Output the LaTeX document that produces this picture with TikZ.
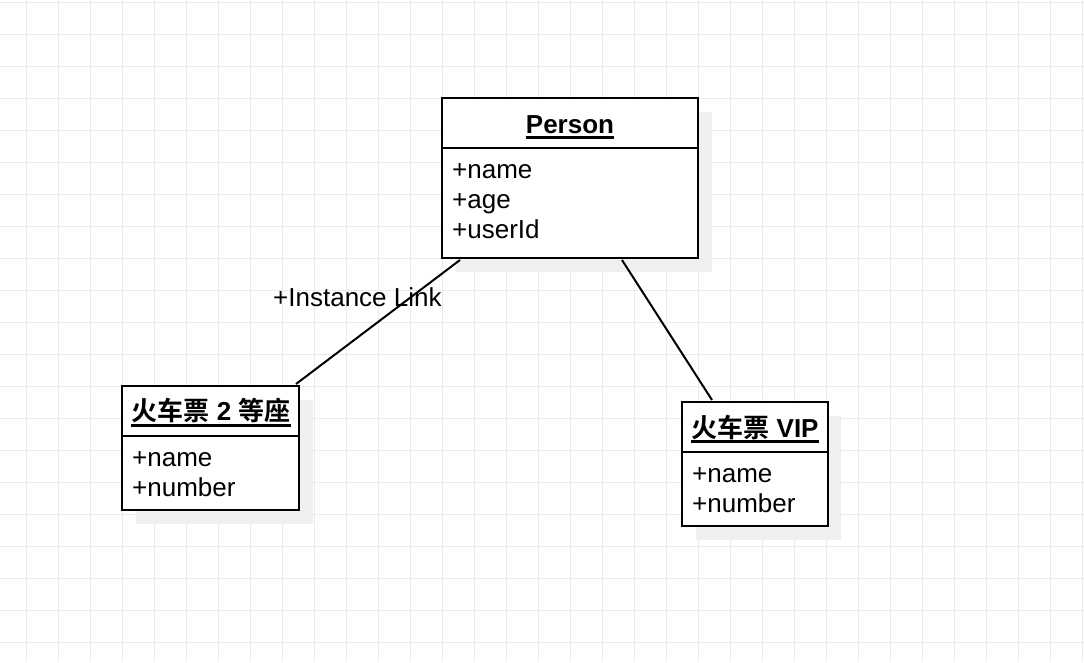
\documentclass[tikz,border=0pt]{standalone}
\usepackage{fontspec}
\setmainfont{Liberation Sans}
\newfontfamily\cjk[BoldFont={Noto Sans CJK SC Bold}]{Noto Sans CJK SC}
\definecolor{gridc}{HTML}{EBEBEB}
\definecolor{shadowc}{HTML}{F0F0F0}
\tikzset{
  gridline/.style={draw=gridc, line width=1pt},
  shadowbox/.style={fill=shadowc},
  umlbox/.style={draw=black, line width=2pt, fill=white, inner sep=0pt, outer sep=0pt, anchor=north west},
  sepline/.style={draw=black, line width=2pt},
  titletext/.style={inner sep=0pt, anchor=base, font=\fontsize{26}{30}\selectfont\bfseries},
  attrtext/.style={inner sep=0pt, anchor=base west, font=\fontsize{26}{30}\selectfont},
  uline/.style={draw=black, line width=2.4pt},
  assoc/.style={draw=black, line width=2pt},
}
\begin{document}
\begin{tikzpicture}[x=1pt, y=-1pt]
\useasboundingbox (0,0) rectangle (1084,662);
\fill[white] (0,0) rectangle (1084,662);
% grid
\foreach \gx in {26,58,...,1082} \draw[gridline] (\gx,0) -- (\gx,662);
\foreach \gy in {2,34,...,660} \draw[gridline] (0,\gy) -- (1084,\gy);

% shadows
\fill[shadowbox] (456,112) rectangle (712,272);
\fill[shadowbox] (136,400) rectangle (313,524);
\fill[shadowbox] (696,416) rectangle (841,540);

% Person
\node[umlbox, minimum width=256, minimum height=160] (person) at (442,98) {};
\draw[sepline] ([yshift=-50pt]person.north west) -- ([yshift=-50pt]person.north east);
\node[titletext] (persontitle) at (570,133) {Person};
\draw[uline] ([yshift=-4.5pt]persontitle.base west) -- ([yshift=-4.5pt]persontitle.base east);
\node[attrtext] (pname) at (452,178) {+name};
\node[attrtext] (page) at (452,208) {+age};
\node[attrtext] (puser) at (452,238) {+userId};

% second class ticket
\node[umlbox, minimum width=177, minimum height=124] (second) at (122,386) {};
\draw[sepline] ([yshift=-50pt]second.north west) -- ([yshift=-50pt]second.north east);
\node[titletext] (secondtitle) at (211,420) {{\cjk\bfseries 火车票} 2 {\cjk\bfseries 等座}};
\draw[uline] ([yshift=-5.5pt]secondtitle.base west) -- ([yshift=-5.5pt]secondtitle.base east);
\node[attrtext] (sname) at (132,466) {+name};
\node[attrtext] (snumber) at (132,496) {+number};

% VIP ticket
\node[umlbox, minimum width=146, minimum height=124] (vip) at (682,402) {};
\draw[sepline] ([yshift=-50pt]vip.north west) -- ([yshift=-50pt]vip.north east);
\node[titletext] (viptitle) at (755,437) {{\cjk\bfseries 火车票} VIP};
\draw[uline] ([yshift=-4.5pt]viptitle.base west) -- ([yshift=-4.5pt]viptitle.base east);
\node[attrtext] (vname) at (692,482) {+name};
\node[attrtext] (vnumber) at (692,512) {+number};

% connectors
\coordinate (pa) at (460,260);
\coordinate (sa) at (296,384);
\coordinate (pb) at (622,260);
\coordinate (va) at (712,400);
\node[attrtext] (linklabel) at (273,306) {+Instance Link};
\draw[assoc] (pa) -- (sa);
\draw[assoc] (pb) -- (va);
\end{tikzpicture}
\end{document}
